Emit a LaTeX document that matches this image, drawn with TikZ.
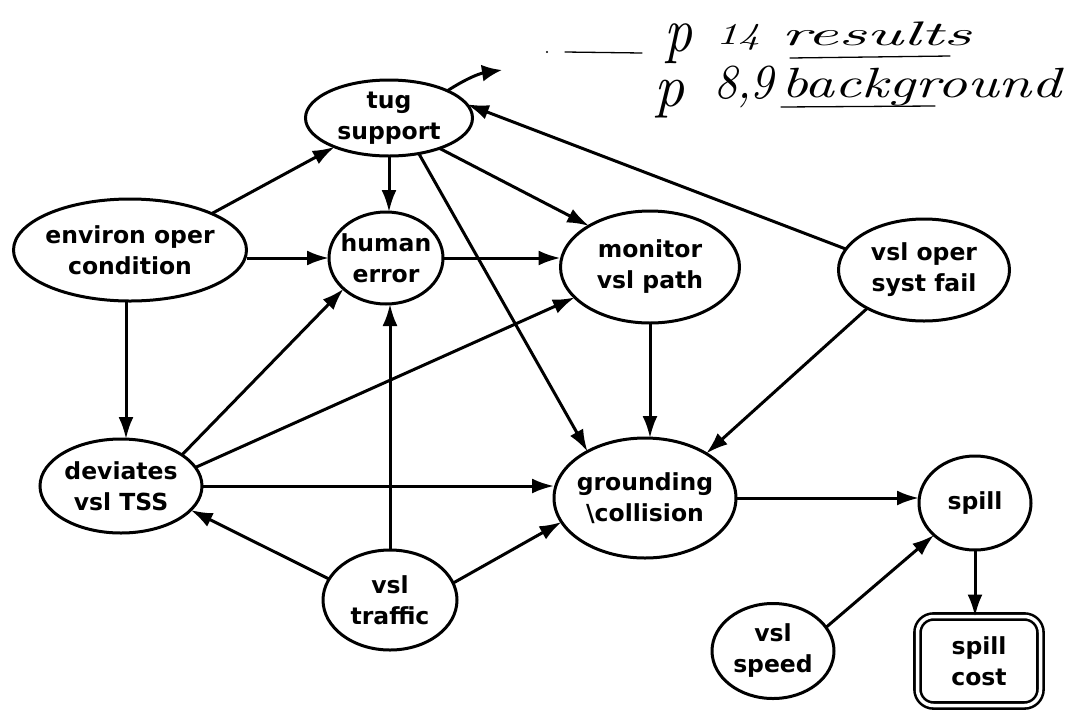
\documentclass[tikz,border=0pt]{standalone}
\usepackage{fontspec}
\usepackage{graphicx}
\newfontfamily\lab{DejaVu Sans}
\usetikzlibrary{shapes.geometric,arrows.meta}
\begin{document}
\begin{tikzpicture}[x=1pt,y=-1pt,
  every node/.style={inner sep=0pt,outer sep=0pt},
  ell/.style={ellipse,draw,line width=3pt,align=center,inner xsep=-10pt,inner ysep=-5pt,
    font=\lab\bfseries\fontsize{23.5}{31}\selectfont},
  costbox/.style={rectangle,rounded corners=16pt,draw,double,double distance=3.5pt,line width=2.6pt,
    align=center,font=\lab\bfseries\fontsize{23.5}{31}\selectfont},
  arr/.style={line width=3pt,-{Latex[length=22pt,width=15pt]}},
  hand/.style={anchor=north west,font=\itshape},
  handline/.style={line width=1.3pt,line cap=round},
]
\useasboundingbox (0,0) rectangle (1071,713);

% nodes
\node[ell,minimum width=233pt,minimum height=102pt] (env) at (130,250) {environ oper\\condition};
\node[ell,minimum width=167pt,minimum height=76pt]  (tug) at (389,118) {tug\\support};
\node[ell,minimum width=114pt,minimum height=92pt]  (hum) at (386,258) {human\\error};
\node[ell,minimum width=179pt,minimum height=112pt] (mon) at (650,267) {monitor\\vsl path};
\node[ell,minimum width=171pt,minimum height=102pt] (vop) at (924,270) {vsl oper\\syst fail};
\node[ell,minimum width=162pt,minimum height=94pt]  (dev) at (121,486) {deviates\\vsl TSS};
\node[ell,minimum width=182pt,minimum height=120pt] (gro) at (645,498) {grounding\\\textbackslash collision};
\node[ell,minimum width=134pt,minimum height=100pt] (tra) at (390,600) {vsl\\traffic};
\node[ell,minimum width=112pt,minimum height=94pt]  (spl) at (975,503) {spill};
\node[ell,minimum width=122pt,minimum height=95pt]  (spd) at (773,651) {vsl\\speed};
\node[costbox,minimum width=123pt,minimum height=89pt] (cost) at (979,661) {spill\\cost};

% connectors
\draw[arr] (env.24) -- (tug.208);
\draw[arr] (env.east |- hum.west) -- (hum.west);
\draw[arr] ([xshift=-4pt]env.south) -- ([xshift=5pt]dev.north);
\draw[arr] (tug.south) -- (tug.south |- hum.north);
\draw[arr] (tug.-31) -- (mon.146);
\draw[arr] (tug.-50) -- (gro.141);
\draw[arr] (vop.165) -- (tug.10);
\draw[arr] (hum.east) -- (hum.east -| mon.west);
\draw[arr] (dev.27) -- (hum.216);
\draw[arr] (dev.14) -- (mon.202);
\draw[arr] (dev.east) -- (dev.east -| gro.west);
\draw[arr] (mon.south) -- (mon.south |- gro.north);
\draw[arr] (vop.214) -- (gro.36);
\draw[arr] (tra.161) -- (dev.-19);
\draw[arr] (tra.north) -- (tra.north |- hum.south);
\draw[arr] (tra.15) -- (gro.196);
\draw[arr] (gro.east) -- (gro.east -| spl.west);
\draw[arr] (spd.24) -- (spl.218);
\draw[arr] (spl.south) -- (spl.south |- cost.north);

% handwritten notes
\coordinate (hw) at (502,70);
\draw[line width=3pt,-{Latex[length=20pt,width=17pt]}] (tug.25) to[bend left=12] (hw);
\fill (547,52) circle (1.2pt);
\coordinate (dl1) at (565,52);
\coordinate (dl2) at (642,53);
\draw[handline] (dl1) -- (dl2);
\node[hand] (p1) at (664,24) {\resizebox*{28pt}{40pt}{\itshape p}};
\node[hand] (n14) at (716,24) {\resizebox*{44pt}{26pt}{\itshape 14}};
\node[hand] (res) at (781,22) {\resizebox*{190pt}{24pt}{\itshape results}};
\coordinate (u1a) at (790,58);
\coordinate (u1b) at (950,56);
\draw[handline] (u1a) -- (u1b);
\node[hand] (p2) at (654,80) {\resizebox*{30pt}{38pt}{\itshape p}};
\node[hand] (n89) at (714,66) {\resizebox*{60pt}{42pt}{\itshape 8,9}};
\node[hand] (bg) at (781,68) {\resizebox*{280pt}{38pt}{\itshape background}};
\coordinate (u2a) at (781,107);
\coordinate (u2b) at (935,106);
\draw[handline] (u2a) -- (u2b);
\end{tikzpicture}
\end{document}
